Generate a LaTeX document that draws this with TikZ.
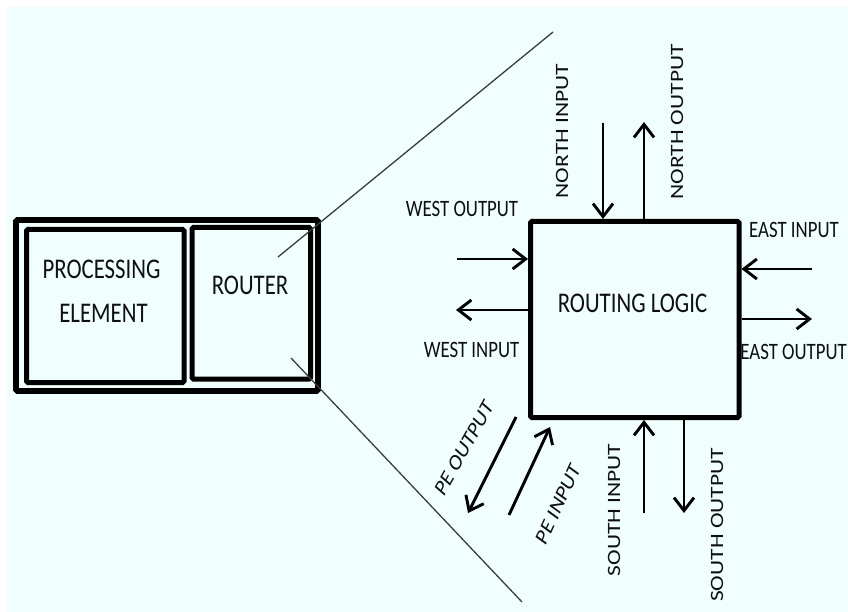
\documentclass[tikz,border=0pt]{standalone}
\usepackage{fontspec}
\setmainfont{Carlito}
\usetikzlibrary{arrows.meta}
\definecolor{bgc}{RGB}{241,254,254}
\definecolor{txt}{RGB}{15,15,15}
\definecolor{zoomline}{RGB}{60,60,60}
\begin{document}
\begin{tikzpicture}[x=1pt,y=-1pt,
  box/.style={draw=black, rounded corners=1.5pt, inner sep=0pt, line width=5pt},
  lbl/.style={font=\fontsize{23.5}{28}\selectfont, text=txt, xscale=0.8, inner sep=0pt, anchor=base},
  big/.style={lbl, font=\fontsize{28.5}{34}\selectfont},
  arr/.style={line width=2.9pt, -{Straight Barb[length=13pt, width=20pt]}},
  zoomln/.style={draw=zoomline, line width=1.3pt}]
\fill[white] (0,0) rectangle (848,612);
\fill[bgc] (7,7) rectangle (848,612);
\useasboundingbox (0,0) rectangle (848,612);

% left block
\node[box, line width=5.8pt, minimum width=302pt, minimum height=171pt] (outer) at (167,305.5) {};
\node[box, minimum width=157.5pt, minimum height=153pt] (pe) at (105.25,306) {};
\node[box, minimum width=118.5pt, minimum height=151.5pt] (router) at (251.25,303.25) {};
\node[big] (tpe1) at (101.5,278) {PROCESSING};
\node[big] (tpe2) at (103.5,322) {ELEMENT};
\node[big] (trouter) at (250,294) {ROUTER};

% zoom lines
\coordinate (z1a) at (278,257);
\coordinate (z1b) at (553,32);
\coordinate (z2a) at (291,358);
\coordinate (z2b) at (522,602);
\draw[zoomln] (z1a) -- (z1b);
\draw[zoomln] (z2a) -- (z2b);

% routing logic
\node[box, minimum width=208.5pt, minimum height=196pt] (rl) at (634.75,319.5) {};
\node[big] (trl) at (632.5,312) {ROUTING LOGIC};

% labels
\node[lbl] (two) at (462,217) {WEST OUTPUT};
\node[lbl] (twi) at (471.5,357) {WEST INPUT};
\node[lbl] (tei) at (794,238) {EAST INPUT};
\node[lbl, anchor=base east] (teo) at (847,359) {EAST OUTPUT};
\node[lbl, rotate=90] (tni) at (568,131) {NORTH INPUT};
\node[lbl, rotate=90] (tno) at (683,122) {NORTH OUTPUT};
\node[lbl, rotate=90] (tsi) at (620,510) {SOUTH INPUT};
\node[lbl, rotate=90] (tso) at (723,525) {SOUTH OUTPUT};
\node[lbl, anchor=center, rotate=55] (tpo) at (464,448) {PE OUTPUT};
\node[lbl, anchor=center, rotate=60] (tpi) at (558,504) {PE INPUT};

% arrows
\coordinate (woS) at (457,259);
\draw[arr] (woS) -- (woS -| rl.west);
\coordinate (wiE) at (456,310);
\draw[arr] (wiE -| rl.west) -- (wiE);
\coordinate (niS) at (603,123);
\draw[arr] (niS) -- (niS |- rl.north);
\coordinate (noE) at (644,122);
\draw[arr] (noE |- rl.north) -- (noE);
\coordinate (eiS) at (812,269);
\draw[arr] (eiS) -- (eiS -| rl.east);
\coordinate (eoE) at (812,319);
\draw[arr] (eoE -| rl.east) -- (eoE);
\coordinate (siS) at (644,513);
\draw[arr] (siS) -- (siS |- rl.south);
\coordinate (soE) at (684,513);
\draw[arr] (soE |- rl.south) -- (soE);
\coordinate (poS) at (516,417);
\coordinate (poE) at (468,513);
\draw[arr] (poS) -- (poE);
\coordinate (piS) at (509,515);
\coordinate (piE) at (550,427);
\draw[arr] (piS) -- (piE);
\end{tikzpicture}
\end{document}
